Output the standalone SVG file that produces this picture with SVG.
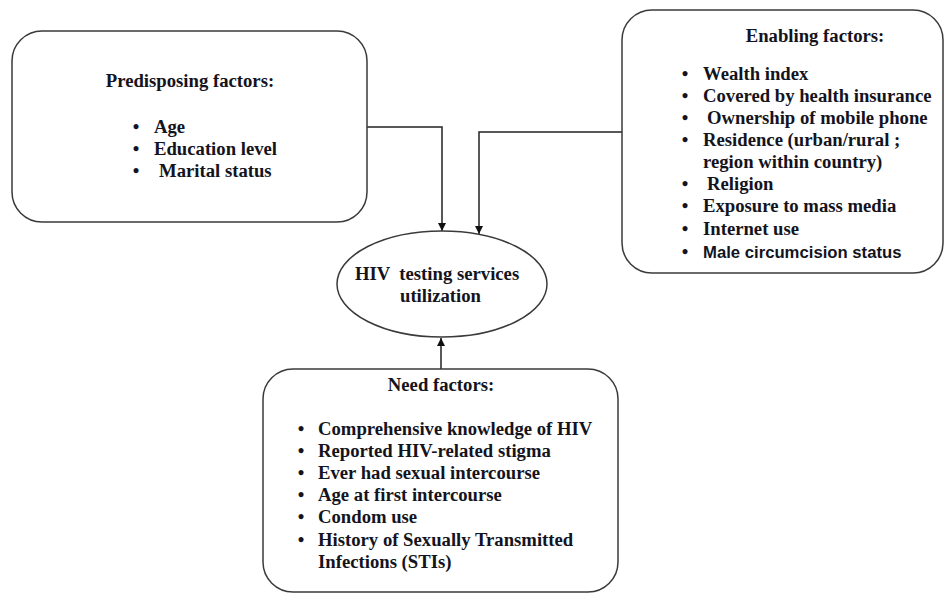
<svg xmlns="http://www.w3.org/2000/svg" width="945" height="594" viewBox="0 0 945 594">
<defs>
<style>
.box{fill:#fff;stroke:#3a3a3a;stroke-width:1.5}
.t{font-family:"Liberation Serif","Times New Roman",serif;font-weight:bold;font-size:18.7px;fill:#141420}
.s{font-family:"Liberation Sans",Arial,sans-serif;font-weight:bold;font-size:16.7px;fill:#141420}
.b{text-anchor:middle}
.c{text-anchor:middle}
.conn{fill:none;stroke:#222;stroke-width:1.5}
</style>
<marker id="ah" viewBox="0 0 10 10" refX="10" refY="5" markerWidth="8" markerHeight="8" markerUnits="userSpaceOnUse" orient="auto">
<path d="M0,0 L10,5 L0,10 z" fill="#111"/>
</marker>
</defs>
<rect width="945" height="594" fill="#fff"/>
<g id="connectors">
<polyline class="conn" points="363,127 442,127 442,231" marker-end="url(#ah)"/>
<polyline class="conn" points="622,132 479,132 479,234" marker-end="url(#ah)"/>
<polyline class="conn" points="441,369 441,338" marker-end="url(#ah)"/>
</g>
<g id="predisposing">
<rect class="box" x="12" y="31" width="355" height="191" rx="30" ry="30"/>
<text class="t c" x="190" y="87">Predisposing factors:</text>
<text class="t b" x="136" y="133">•</text><text class="t" x="154" y="133">Age</text>
<text class="t b" x="136" y="155">•</text><text class="t" x="154" y="155">Education level</text>
<text class="t b" x="136" y="177">•</text><text class="t" x="159" y="177">Marital status</text>
</g>
<g id="enabling">
<rect class="box" x="622" y="10" width="321" height="263" rx="30" ry="30"/>
<text class="t c" x="815" y="42">Enabling factors:</text>
<text class="t b" x="685" y="80">•</text><text class="t" x="703" y="80">Wealth index</text>
<text class="t b" x="685" y="102">•</text><text class="t" x="703" y="102">Covered by health insurance</text>
<text class="t b" x="685" y="124">•</text><text class="t" x="707" y="124">Ownership of mobile phone</text>
<text class="t b" x="685" y="146">•</text><text class="t" x="703" y="146">Residence (urban/rural ;</text>
<text class="t" x="703" y="168">region within country)</text>
<text class="t b" x="685" y="190">•</text><text class="t" x="707" y="190">Religion</text>
<text class="t b" x="685" y="212">•</text><text class="t" x="703" y="212">Exposure to mass media</text>
<text class="t b" x="685" y="235">•</text><text class="t" x="703" y="235">Internet use</text>
<text class="t b" x="685" y="258">•</text><text class="s" x="703" y="258">Male circumcision status</text>
</g>
<g id="hiv">
<ellipse class="box" cx="442" cy="284" rx="105" ry="53"/>
<text class="t" x="355" y="280" xml:space="preserve" style="white-space:pre">HIV  testing services</text>
<text class="t" x="400" y="302">utilization</text>
</g>
<g id="need">
<rect class="box" x="263" y="369" width="355" height="223" rx="30" ry="30"/>
<text class="t c" x="441" y="391">Need factors:</text>
<text class="t b" x="301" y="435">•</text><text class="t" x="318" y="435">Comprehensive knowledge of HIV</text>
<text class="t b" x="301" y="457">•</text><text class="t" x="318" y="457">Reported HIV-related stigma</text>
<text class="t b" x="301" y="479">•</text><text class="t" x="318" y="479">Ever had sexual intercourse</text>
<text class="t b" x="301" y="501">•</text><text class="t" x="318" y="501">Age at first intercourse</text>
<text class="t b" x="301" y="523">•</text><text class="t" x="318" y="523">Condom use</text>
<text class="t b" x="301" y="546">•</text><text class="t" x="318" y="546">History of Sexually Transmitted</text>
<text class="t" x="318" y="568">Infections (STIs)</text>
</g>
</svg>
